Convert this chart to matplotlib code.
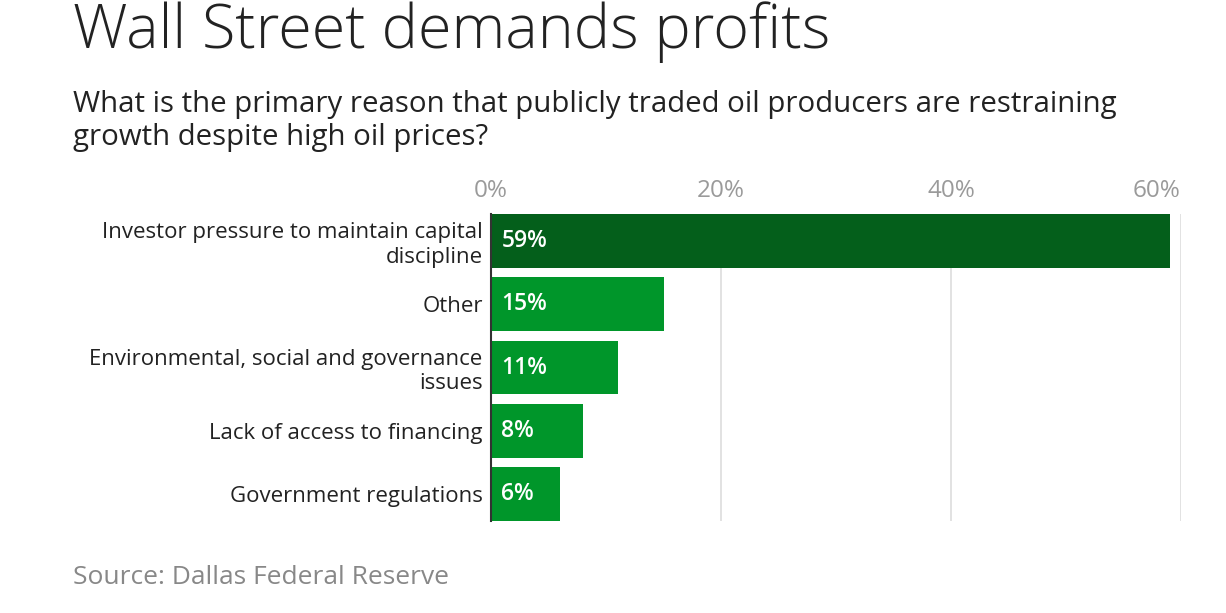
import matplotlib.pyplot as plt

plt.rcParams['font.family'] = ['Open Sans', 'DejaVu Sans']

# Survey data
categories = ['Investor pressure to maintain capital\ndiscipline', 'Other',
              'Environmental, social and governance\nissues',
              'Lack of access to financing', 'Government regulations']
shares = [59, 15, 11, 8, 6]
bar_colors = ['#045F1B', '#00962A', '#00962A', '#00962A', '#00962A']
xticks = [0, 20, 40, 60]

fig = plt.figure(figsize=(12.26, 6.13), dpi=100)
ax = fig.add_axes([491 / 1226, 1 - 521 / 613, (1181 - 491) / 1226, (521 - 214) / 613])

ypos = list(range(len(categories)))
ax.barh(ypos, shares, height=0.85, color=bar_colors, zorder=2)
for y, v in zip(ypos, shares):
    ax.text(0.9, y, f'{v}%', color='white', fontsize=16.5, fontweight='semibold',
            va='center', ha='left', zorder=3)

ax.set_xlim(0, 60)
ax.set_ylim(len(categories) - 1 + 0.425, -0.425)
ax.set_xticks(xticks)
ax.set_xticklabels([f'{t}%' for t in xticks])
ax.xaxis.tick_top()
ax.tick_params(axis='x', length=0, pad=8, labelsize=17.5, labelcolor='#9a9a9a')
ax.get_xticklabels()[-1].set_ha('right')
ax.set_yticks(ypos)
ax.set_yticklabels(categories)
ax.tick_params(axis='y', length=0, pad=6, labelsize=16, labelcolor='#222222')
ax.grid(axis='x', color='#dddddd', linewidth=1.2, zorder=0)
for s in ['top', 'right', 'bottom']:
    ax.spines[s].set_visible(False)
ax.spines['left'].set_color('#333333')
ax.spines['left'].set_linewidth(1.5)
ax.spines['left'].set_zorder(4)

fig.text(73 / 1226, 1 - 32 / 613, 'Wall Street demands profits', fontsize=44,
         fontweight='light', color='#222222', va='center', ha='left')
fig.text(73 / 1226, 1 - 121 / 613,
         'What is the primary reason that publicly traded oil producers are restraining\n'
         'growth despite high oil prices?', fontsize=21.2, color='#222222',
         va='center', ha='left', linespacing=1.2)
fig.text(73 / 1226, 1 - 578 / 613, 'Source: Dallas Federal Reserve', fontsize=19,
         color='#888888', va='center', ha='left')

fig.savefig('out.png', dpi=100)
